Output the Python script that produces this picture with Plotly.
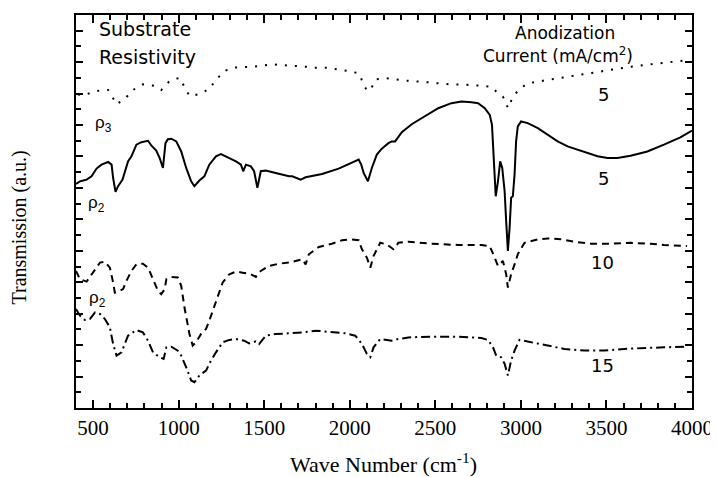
import plotly.graph_objects as go

# ---------------- data ----------------
# rho3, 5 mA/cm2 (dotted)
x_rho3_5 = [411, 452, 520, 588, 617, 637, 685, 733, 791, 850, 898, 947, 1005, 1034, 1063,
            1121, 1179, 1218, 1267, 1325, 1431, 1548, 1616, 1674, 1742, 1800, 1858, 1926,
            1990, 2052, 2075, 2100, 2126, 2152, 2216, 2333, 2455, 2579, 2707, 2827, 2856,
            2885, 2905, 2924, 2943, 2963, 2992, 3040, 3157, 3273, 3448, 3641, 3836, 3990]
y_rho3_5 = [19.94, 19.92, 20.17, 20.23, 19.70, 19.32, 19.66, 20.23, 20.59, 20.51, 20.23,
            20.80, 21.01, 20.44, 19.85, 19.96, 20.30, 20.87, 21.44, 21.65, 21.71, 21.86,
            21.82, 21.77, 21.71, 21.65, 21.65, 21.54, 21.44, 21.29, 20.72, 20.17, 20.34,
            20.91, 20.97, 20.82, 20.72, 20.59, 20.55, 20.44, 20.13, 19.92, 19.66, 19.07,
            19.54, 19.92, 20.30, 20.65, 20.87, 21.08, 21.39, 21.71, 21.96, 22.14]

# rho2, 5 mA/cm2 (solid)
x_rho2_5 = [400, 423, 442, 462, 491, 520, 549, 588, 608, 617, 631, 646, 672, 685, 704, 724,
            753, 782, 821, 840, 869, 889, 908, 923, 937, 957, 986, 1015, 1044, 1073, 1092,
            1121, 1150, 1179, 1218, 1247, 1296, 1335, 1364, 1377, 1393, 1422, 1441, 1460,
            1480, 1509, 1567, 1645, 1664, 1713, 1742, 1838, 1935, 1994, 2052, 2067, 2081,
            2106, 2129, 2158, 2187, 2226, 2245, 2265, 2304, 2362, 2440, 2517, 2594, 2653,
            2711, 2750, 2789, 2818, 2831, 2837, 2843, 2853, 2866, 2879, 2891, 2905, 2914,
            2924, 2934, 2943, 2953, 2963, 2972, 2982, 3001, 3040, 3099, 3157, 3215, 3273,
            3351, 3448, 3506, 3564, 3641, 3739, 3836, 3932, 4000]
y_rho2_5 = [14.25, 14.42, 14.47, 14.53, 14.74, 15.23, 15.48, 15.65, 15.48, 14.63, 13.75,
            14.11, 14.53, 15.06, 15.69, 16.01, 16.75, 16.91, 17.00, 16.70, 16.37, 15.90,
            15.27, 16.85, 17.10, 17.13, 16.96, 16.32, 15.27, 14.42, 14.11, 14.47, 14.74,
            15.48, 16.01, 16.15, 15.90, 15.69, 15.48, 15.06, 15.48, 15.37, 15.06, 14.00,
            15.06, 15.10, 14.95, 14.74, 14.74, 14.53, 14.68, 14.89, 15.23, 15.52, 15.80,
            15.48, 14.95, 14.42, 15.27, 16.12, 16.50, 16.85, 16.96, 16.96, 17.55, 18.05,
            18.54, 19.07, 19.39, 19.49, 19.45, 19.39, 19.07, 18.65, 18.02, 16.96, 15.27,
            13.47, 14.42, 15.69, 15.27, 13.79, 11.89, 9.99, 11.46, 13.37, 13.47, 14.85,
            16.96, 17.91, 18.23, 18.12, 17.80, 17.38, 16.96, 16.64, 16.37, 16.01, 15.90,
            15.90, 16.05, 16.32, 16.75, 17.21, 17.65]

# rho2, 10 mA/cm2 (dashed)
x_rho2_10 = [400, 423, 462, 501, 540, 569, 598, 617, 627, 656, 675, 695, 724, 753, 791, 821,
             850, 879, 898, 918, 928, 957, 995, 1015, 1034, 1063, 1082, 1102, 1131, 1160,
             1179, 1199, 1228, 1257, 1296, 1335, 1373, 1422, 1451, 1480, 1528, 1586, 1645,
             1722, 1742, 1761, 1819, 1896, 1955, 2003, 2052, 2071, 2100, 2120, 2139, 2178,
             2216, 2255, 2284, 2343, 2478, 2633, 2769, 2818, 2847, 2866, 2895, 2914, 2924,
             2943, 2963, 2982, 3021, 3099, 3157, 3234, 3312, 3409, 3525, 3641, 3758, 3836,
             3971]
y_rho2_10 = [8.72, 8.19, 8.04, 8.61, 9.25, 9.31, 8.93, 7.98, 7.34, 7.45, 7.56, 8.09, 8.72,
             9.14, 9.18, 8.93, 8.19, 7.45, 7.24, 7.56, 8.19, 8.34, 8.30, 7.77, 6.39, 4.71,
             3.97, 4.18, 4.71, 5.03, 5.55, 6.19, 7.03, 7.98, 8.51, 8.68, 8.61, 8.51, 8.34,
             8.72, 9.04, 9.18, 9.25, 9.46, 9.14, 9.78, 10.24, 10.45, 10.67, 10.73, 10.67,
             10.10, 9.56, 8.93, 9.67, 10.51, 10.41, 10.10, 10.51, 10.58, 10.45, 10.37, 10.37,
             10.30, 9.56, 9.04, 9.35, 8.51, 7.66, 8.51, 9.14, 9.78, 10.51, 10.73, 10.79,
             10.73, 10.58, 10.45, 10.45, 10.51, 10.45, 10.37, 10.30]

# rho2, 15 mA/cm2 (dash-dot)
x_rho2_15 = [400, 423, 452, 481, 511, 540, 569, 598, 617, 637, 666, 685, 704, 753, 791, 821,
             850, 889, 912, 928, 957, 995, 1015, 1044, 1073, 1092, 1121, 1160, 1189, 1218,
             1257, 1296, 1335, 1383, 1412, 1451, 1470, 1509, 1567, 1645, 1722, 1800, 1896,
             1974, 2032, 2071, 2100, 2120, 2139, 2178, 2245, 2284, 2343, 2478, 2633, 2769,
             2808, 2837, 2856, 2885, 2905, 2924, 2943, 2963, 2992, 3060, 3157, 3254, 3370,
             3486, 3603, 3719, 3836, 3971]
y_rho2_15 = [6.29, 5.87, 5.60, 5.66, 6.08, 5.98, 5.66, 5.13, 4.07, 3.33, 3.54, 4.07, 4.60,
             4.96, 4.81, 4.28, 3.54, 3.23, 3.12, 3.86, 3.90, 3.65, 3.33, 2.59, 1.75, 1.64,
             2.07, 2.38, 3.02, 3.54, 4.18, 4.33, 4.39, 4.28, 4.11, 4.24, 4.07, 4.60, 4.71,
             4.75, 4.81, 4.92, 4.85, 4.75, 4.60, 4.07, 3.44, 3.23, 3.86, 4.39, 4.28, 4.39,
             4.49, 4.54, 4.54, 4.45, 4.33, 3.86, 3.33, 3.23, 2.81, 2.07, 3.02, 3.65, 4.33,
             4.18, 3.97, 3.76, 3.65, 3.65, 3.76, 3.82, 3.86, 3.90]

x_tick_vals = [500, 1000, 1500, 2000, 2500, 3000, 3500, 4000]
x_tick_labels = ["500", "1000", "1500", "2000", "2500", "3000", "3500", "4000"]

current_labels = ["5", "5", "10", "15"]
current_label_y = [19.93, 14.61, 9.23, 2.70]
current_label_x = [3482, 3482, 3477, 3477]

rho_labels = ["ρ<sub>3</sub>", "ρ<sub>2</sub>", "ρ<sub>2</sub>"]
rho_label_x = [563, 522, 528]
rho_label_y = [18.09, 12.95, 6.94]

# ---------------- figure ----------------
SANS = "DejaVu Sans, Liberation Sans, Arial, sans-serif"
RHO = "Liberation Sans, Arial, sans-serif"
SERIF = "Liberation Serif, Times New Roman, serif"

fig = go.Figure()
fig.add_trace(go.Scatter(x=x_rho3_5, y=y_rho3_5, mode="lines",
                         line=dict(color="black", width=2, dash="2px,8px"),
                         showlegend=False))
fig.add_trace(go.Scatter(x=x_rho2_5, y=y_rho2_5, mode="lines",
                         line=dict(color="black", width=2),
                         showlegend=False))
fig.add_trace(go.Scatter(x=x_rho2_10, y=y_rho2_10, mode="lines",
                         line=dict(color="black", width=2, dash="7px,5px"),
                         showlegend=False))
fig.add_trace(go.Scatter(x=x_rho2_15, y=y_rho2_15, mode="lines",
                         line=dict(color="black", width=2, dash="9px,4px,2px,4px"),
                         showlegend=False))

ann = []
ann.append(dict(x=522, y=24.12, xref="x", yref="y", text="Substrate",
                showarrow=False, xanchor="left", yanchor="middle",
                font=dict(family=SANS, size=19, color="black")))
ann.append(dict(x=522, y=22.34, xref="x", yref="y", text="Resistivity",
                showarrow=False, xanchor="left", yanchor="middle",
                font=dict(family=SANS, size=19, color="black")))
ann.append(dict(x=3256, y=23.87, xref="x", yref="y", text="Anodization",
                showarrow=False, xanchor="center", yanchor="middle",
                font=dict(family=SANS, size=17, color="black")))
ann.append(dict(x=3215, y=22.47, xref="x", yref="y",
                text="Current (mA/cm<sup>2</sup>)",
                showarrow=False, xanchor="center", yanchor="middle",
                font=dict(family=SANS, size=17, color="black")))
for t, xx, yy in zip(current_labels, current_label_x, current_label_y):
    ann.append(dict(x=xx, y=yy, xref="x", yref="y", text=t,
                    showarrow=False, xanchor="center", yanchor="middle",
                    font=dict(family=SANS, size=18, color="black")))
for t, xx, yy in zip(rho_labels, rho_label_x, rho_label_y):
    ann.append(dict(x=xx, y=yy, xref="x", yref="y", text=t,
                    showarrow=False, xanchor="center", yanchor="middle",
                    font=dict(family=RHO, size=17, color="black")))
# axis titles
ann.append(dict(x=0.499, y=-0.14, xref="paper", yref="paper",
                text="Wave Number (cm<sup>-1</sup>)",
                showarrow=False, xanchor="center", yanchor="middle",
                font=dict(family=SERIF, size=22, color="black")))
ann.append(dict(x=-0.092, y=0.46, xref="paper", yref="paper",
                text="Transmission (a.u.)", textangle=-90,
                showarrow=False, xanchor="center", yanchor="middle",
                font=dict(family=SERIF, size=20, color="black")))

# the page adds an 8px body margin, so the figure is 8px smaller than the window
fig.update_layout(
    width=710, height=469,
    margin=dict(l=68, r=23, t=5, b=69, pad=0),
    paper_bgcolor="white", plot_bgcolor="white",
    annotations=ann,
    showlegend=False,
)
fig.update_xaxes(
    range=[400, 4000], showgrid=False, zeroline=False,
    showline=True, linecolor="black", linewidth=2, mirror="ticks",
    ticks="inside", ticklen=8, tickwidth=1.5, tickcolor="black",
    tickmode="array", tickvals=x_tick_vals, ticktext=x_tick_labels,
    tickfont=dict(family=SERIF, size=21, color="black"),
    minor=dict(tickmode="linear", tick0=400, dtick=100, ticks="inside",
               ticklen=5, tickwidth=1.5, tickcolor="black", showgrid=False),
)
fig.update_yaxes(
    range=[0, 25], showgrid=False, zeroline=False,
    showline=True, linecolor="black", linewidth=2, mirror="ticks",
    ticks="inside", ticklen=7, tickwidth=1.5, tickcolor="black",
    tickmode="linear", tick0=0, dtick=2, showticklabels=False,
    minor=dict(tickmode="linear", tick0=0, dtick=1, ticks="inside",
               ticklen=5, tickwidth=1.5, tickcolor="black", showgrid=False),
)

fig.write_html("out.html")
